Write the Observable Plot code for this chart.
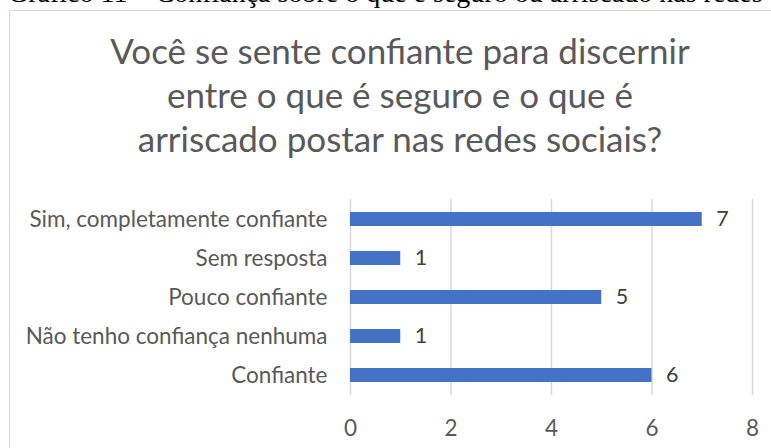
<!DOCTYPE html>
<html>
<head>
<meta charset="utf-8">
<script src="https://cdn.jsdelivr.net/npm/d3@7"></script>
<script src="https://cdn.jsdelivr.net/npm/@observablehq/plot@0.6"></script>
<style>
  html, body { margin: 0; padding: 0; background: #fff; overflow: hidden; }
  #wrap { position: relative; width: 771px; height: 448px; overflow: hidden; }
  #caption { position: absolute; left: 8px; top: -21.5px; font-family: "Liberation Serif", serif; font-size: 28px; line-height: 28px; color: #000; white-space: nowrap; }
  #frame { position: absolute; left: 9px; top: 10px; width: 800px; height: 500px; border: 1px solid #d9d9d9; box-sizing: border-box; }
  #title { position: absolute; left: 0; top: 28px; width: 800px; text-align: center; font-family: Lato, sans-serif; font-size: 35px; line-height: 44px; color: #595959; }
  #chart { position: absolute; left: 0; top: 0; }
</style>
</head>
<body>
<div id="wrap">
  <div id="caption">Gráfico 11 – Confiança sobre o que é seguro ou arriscado nas redes</div>
  <div id="frame"></div>
  <div id="title">Você se sente confiante para discernir<br>entre o que é seguro e o que é<br>arriscado postar nas redes sociais?</div>
  <div id="chart"></div>
</div>
<script>
const categories = ["Sim, completamente confiante", "Sem resposta", "Pouco confiante", "Não tenho confiança nenhuma", "Confiante"];
const values = [7, 1, 5, 1, 6];
const xTicks = [0, 2, 4, 6, 8];

const data = categories.map((c, i) => ({category: c, value: values[i]}));

const chart = Plot.plot({
  width: 771,
  height: 448,
  marginTop: 199,
  marginBottom: 53,
  marginLeft: 350,
  marginRight: 19,
  style: {fontFamily: "Lato, sans-serif", fontSize: "22.5px", color: "#595959", background: "transparent"},
  x: {domain: [0, 8], ticks: xTicks, tickSize: 0, tickPadding: 25, label: null},
  y: {domain: categories, paddingInner: 0.64, paddingOuter: 0.32, tickSize: 0, tickPadding: 23, label: null},
  marks: [
    Plot.ruleX(xTicks, {stroke: "#d9d9d9", strokeWidth: 1.5}),
    Plot.barX(data, {x: "value", y: "category", fill: "#4472C4"}),
    Plot.text(data, {x: "value", y: "category", text: d => String(d.value), textAnchor: "start", dx: 14, fill: "#404040", fontSize: 21.5})
  ]
});
document.getElementById("chart").appendChild(chart);
</script>
</body>
</html>
